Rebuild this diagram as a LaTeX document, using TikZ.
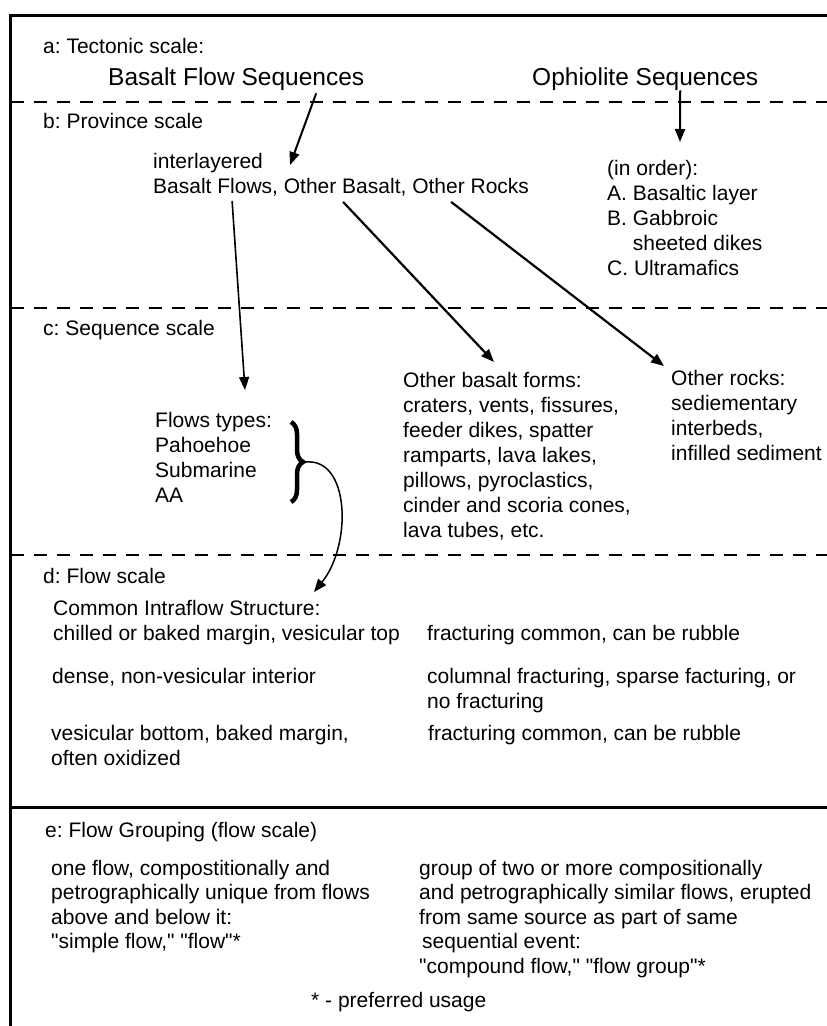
\documentclass[tikz,border=0pt]{standalone}
\usepackage{fontspec}
\setmainfont{Liberation Sans}[Ligatures=TeXOff]
\usetikzlibrary{arrows.meta,decorations.pathreplacing}
\frenchspacing

\tikzset{
  txt/.style={anchor=base west, inner sep=0pt, align=left,
    font=\fontsize{21}{25}\selectfont},
  title/.style={anchor=base west, inner sep=0pt,
    font=\fontsize{24.5}{28}\selectfont},
  divider/.style={line width=2.6pt, dash pattern=on 13pt off 10pt},
  rule/.style={line width=3pt},
  link/.style={-{Triangle[length=13pt,width=10pt]}, line width=2pt},
}

\begin{document}
\begin{tikzpicture}[x=1pt,y=-1pt]
    \useasboundingbox (0,0) rectangle (827,1026);
    % frame and scale dividers
    \draw[rule] (10.5,1026) -- (10.5,15) -- (827,15);
    \foreach \yy in {102,308,555}
        \draw[divider] (10.5,\yy) -- (827,\yy);
    \draw[rule] (10.5,807) -- (827,807);

    % a: tectonic scale
    \node[txt] (tect) at (43,53) {a: Tectonic scale:};
    \node[title] (bfs) at (108,85) {Basalt Flow Sequences};
    \node[title] (oph) at (532,85) {Ophiolite Sequences};

    % b: province scale (multi-line nodes sit on their last line)
    \node[txt] (prov) at (43,128) {b: Province scale};
    \node[txt] (inter) at (153,193) {interlayered\\Basalt Flows, Other Basalt, Other Rocks};
    \node[txt] (order) at (607,275) {(in order):\\A. Basaltic layer\\B. Gabbroic\\\hphantom{B.} sheeted dikes\\C. Ultramafics};

    % c: sequence scale
    \node[txt] (seq) at (43,335) {c: Sequence scale};
    \node[txt, font=\fontsize{21}{24.7}\selectfont] (ftypes) at (155,502) {Flows types:\\Pahoehoe\\Submarine\\AA};
    \node[txt] (obf) at (403,537) {Other basalt forms:\\craters, vents, fissures,\\feeder dikes, spatter\\ramparts, lava lakes,\\pillows, pyroclastics,\\cinder and scoria cones,\\lava tubes, etc.};
    \node[txt] (oth) at (671,460) {Other rocks:\\sediementary\\interbeds,\\infilled sediment};

    % d: flow scale
    \node[txt] (flow) at (43,583) {d: Flow scale};
    \node[txt] (cis) at (53,640) {Common Intraflow Structure:\\chilled or baked margin, vesicular top};
    \node[txt] (frtop) at (427,640) {fracturing common, can be rubble};
    \node[txt] (dense) at (52,683) {dense, non-vesicular interior};
    \node[txt] (colf) at (427,708) {columnal fracturing, sparse facturing, or\\no fracturing};
    \node[txt] (vbot) at (51,765) {vesicular bottom, baked margin,\\often oxidized};
    \node[txt] (frbot) at (428,740) {fracturing common, can be rubble};

    % e: flow grouping
    \node[txt] (group) at (45,837) {e: Flow Grouping (flow scale)};
    \node[txt, font=\fontsize{21}{24.5}\selectfont] (simple) at (51,948.5)
        {one flow, compostitionally and\\petrographically unique from flows\\above and below it:\\"simple flow," "flow"*};
    \node[txt, font=\fontsize{21}{24.5}\selectfont] (compound) at (419,973)
        {group of two or more compositionally\\and petrographically similar flows, erupted\\from same source as part of same\\\hspace*{3pt}sequential event:\\"compound flow," "flow group"*};
    \node[txt] (pref) at (311,1007) {* - preferred usage};

    % arrow ends
    \coordinate (inter-in) at (290,165);
    \coordinate (order-in) at (680,142);
    \coordinate (ftypes-in) at (245,390);
    \coordinate (obf-in) at (494,362);
    \coordinate (oth-in) at (664,366);
    \coordinate (brtip) at (306,462);
    \coordinate (cis-in) at (314,592);

    \draw[link] ([shift={(80,3)}]bfs.south) -- (inter-in);
    \draw[link] ([shift={(35,0)}]oph.south) -- (order-in);
    \draw[link, line width=1.6pt] ([shift={(-109,5)}]inter.south) -- (ftypes-in);
    \draw[link, line width=2.2pt] ([shift={(2,6)}]inter.south) -- (obf-in);
    \draw[link, line width=2.2pt] ([shift={(110,6)}]inter.south) -- (oth-in);

    % brace over the flow types
    \draw[line width=4.5pt, decorate, decoration={brace, amplitude=12pt, aspect=0.5}]
        (291,422) -- (291,502);
    \draw[link, line width=1.5pt] (brtip) .. controls (350,458) and (352,545) .. (cis-in);
\end{tikzpicture}
\end{document}
